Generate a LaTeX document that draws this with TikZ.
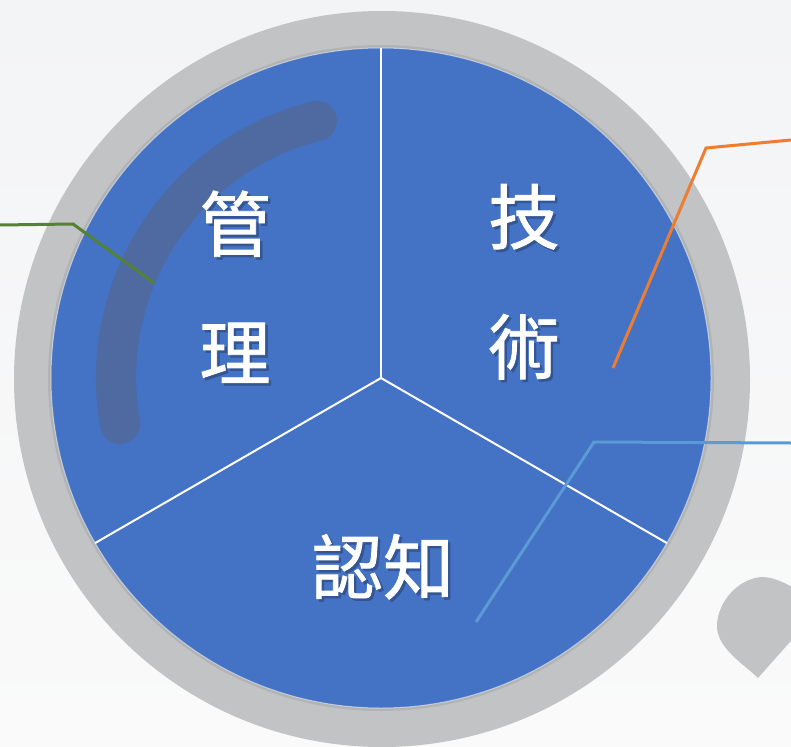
\documentclass[tikz,border=0pt]{standalone}
\usepackage{fontspec}
\newfontfamily\cjk{Noto Sans CJK TC}[FakeBold=1.2]
\definecolor{bgtop}{HTML}{F3F4F6}
\definecolor{bgbot}{HTML}{FAFAFA}
\definecolor{ringgray}{HTML}{C2C3C5}
\definecolor{pieblue}{HTML}{4472C4}
\definecolor{arcgray}{HTML}{4F6AA0}
\definecolor{lgreen}{HTML}{548235}
\definecolor{lorange}{HTML}{ED7D31}
\definecolor{lblue}{HTML}{5B9BD5}
\definecolor{shadowc}{HTML}{335593}
\tikzset{
  divider/.style={draw=white, line width=2pt},
  leader/.style={line width=3pt, line join=miter},
  bigtext/.style={font=\cjk\fontsize{71pt}{71pt}\selectfont, text=white, inner sep=0pt},
}
\newcommand{\shadowed}[1]{\makebox[0pt][l]{\kern2.5pt\raisebox{-2.5pt}{\textcolor{shadowc}{#1}}}#1}
\newcommand{\labeltext}[3]{%
  \node[bigtext] (#3) at (#1) {\shadowed{#2}};}
\begin{document}
\begin{tikzpicture}[x=1pt,y=-1pt]
\useasboundingbox (0,0) rectangle (791,746);
\fill[top color=bgtop, bottom color=bgbot] (0,0) rectangle (791,746);
% droplet
\fill[ringgray] (758,678) .. controls (745,665) and (716,648) .. (717,625)
  .. controls (718,600) and (740,578) .. (762,577)
  .. controls (775,577) and (790,585) .. (805,595) -- (805,625) -- cycle;
% ring
\coordinate (c) at (382,379);
\fill[ringgray] (c) circle[radius=368];
\fill[black, opacity=0.08] (381,378) circle[radius=333];
\coordinate (o) at (381,378);
\fill[pieblue] (o) circle[radius=330];
\draw[white, opacity=0.5, line width=1pt] (o) circle[radius=330];
% translucent arc
\draw[arcgray, line width=40pt, line cap=round] (o) ++(256:265) arc[start angle=256, end angle=170, radius=265];
% dividers
\draw[divider] (o) -- ++(-90:330);
\draw[divider] (o) -- ++(150:330);
\draw[divider] (o) -- ++(30:330);
% leaders
\coordinate (g1) at (0,225); \coordinate (g2) at (73,224); \coordinate (g3) at (154,283);
\draw[leader, lgreen] (g1) -- (g2) -- (g3);
\coordinate (o1) at (791,140); \coordinate (o2) at (706,148); \coordinate (o3) at (613,368);
\draw[leader, lorange] (o1) -- (o2) -- (o3);
\coordinate (b1) at (791,443); \coordinate (b2) at (594,442); \coordinate (b3) at (476,622);
\draw[leader, lblue] (b1) -- (b2) -- (b3);
% texts
\coordinate (p1) at (235,225);
\coordinate (p2) at (235,354);
\coordinate (p3) at (524,218);
\coordinate (p4) at (524,348);
\coordinate (p5) at (383,568);
\labeltext{p1}{管}{guan}
\labeltext{p2}{理}{li}
\labeltext{p3}{技}{ji}
\labeltext{p4}{術}{shu}
\labeltext{p5}{認知}{renzhi}
\end{tikzpicture}
\end{document}
